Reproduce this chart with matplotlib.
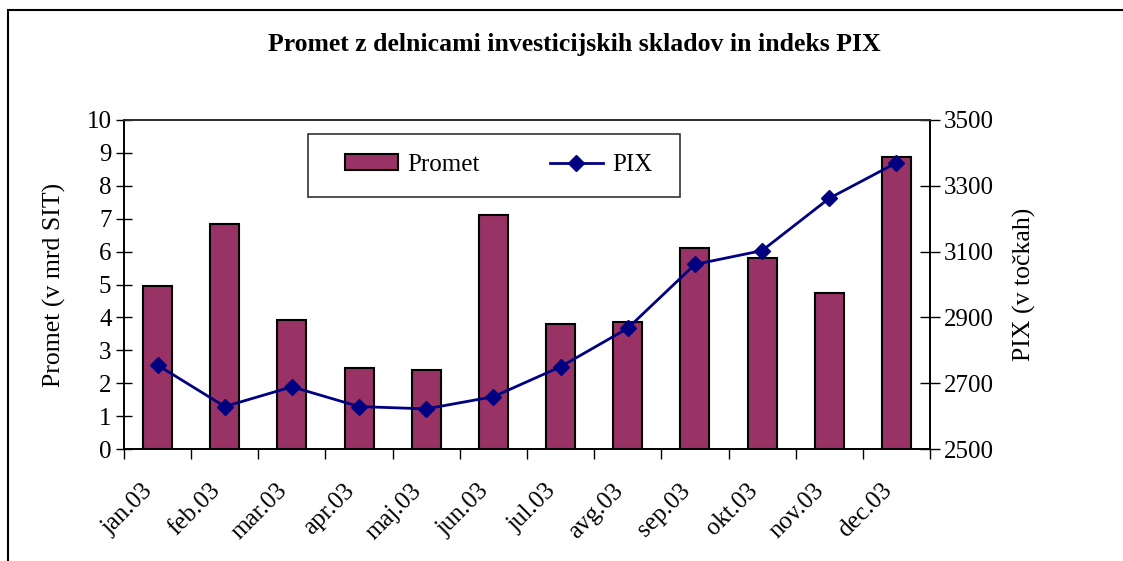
import matplotlib
matplotlib.use("Agg")
import matplotlib.pyplot as plt
from matplotlib.patches import Rectangle
from matplotlib.lines import Line2D
from matplotlib.patches import Patch
from matplotlib.transforms import ScaledTranslation
import numpy as np

months = ["jan.03", "feb.03", "mar.03", "apr.03", "maj.03", "jun.03",
          "jul.03", "avg.03", "sep.03", "okt.03", "nov.03", "dec.03"]
promet = [4.95, 6.83, 3.91, 2.45, 2.40, 7.12, 3.79, 3.85, 6.10, 5.80, 4.75, 8.88]
pix = [2755, 2629, 2689, 2629, 2622, 2659, 2750, 2867, 3061, 3103, 3262, 3370]

title = "Promet z delnicami investicijskih skladov in indeks PIX"
ylabel_left = "Promet (v mrd SIT)"
ylabel_right = "PIX (v točkah)"

plt.rcParams['font.family'] = ['Liberation Serif', 'DejaVu Serif']

W, H = 1123, 561
fig = plt.figure(figsize=(W / 100, H / 100), dpi=100)

def fx(px):
    return px / W

def fy(py):
    return 1 - py / H

# outer chart border
fig.patches.append(Rectangle((fx(8), -0.1), 1.2, fy(10) + 0.1,
                             transform=fig.transFigure, fill=False,
                             edgecolor='black', linewidth=1.5))

ax = fig.add_axes([fx(124), fy(449), fx(930) - fx(124), fy(120) - fy(449)])
ax2 = ax.twinx()

x = np.arange(len(months))
ax.bar(x, promet, width=0.43, color='#993366', edgecolor='black', linewidth=1.5, zorder=2)
ax.set_xlim(-0.5, len(months) - 0.5)
ax.set_ylim(0, 10)
ax.set_yticks(range(0, 11))
ax.tick_params(axis='y', direction='inout', length=12, width=1, labelsize=18, pad=3)

ax.set_xticks(x)
ax.set_xticklabels(months, rotation=45, ha='right', rotation_mode='anchor', fontsize=18)
ax.set_xticks(np.arange(-0.5, len(months), 1), minor=True)
ax.tick_params(axis='x', which='major', length=0, pad=22)
ax.tick_params(axis='x', which='minor', direction='out', length=7, width=1)
offset = ScaledTranslation(-16 / 100, 0, fig.dpi_scale_trans)
for lbl in ax.get_xticklabels():
    lbl.set_transform(lbl.get_transform() + offset)

ax2.plot(x, pix, color='#000080', linewidth=2, marker='D', markersize=8,
         markerfacecolor='#000080', markeredgecolor='#000080', zorder=3)
ax2.set_ylim(2500, 3500)
ax2.set_yticks(range(2500, 3501, 200))
ax2.tick_params(axis='y', direction='inout', length=14, width=1, labelsize=18, pad=3)

for a in (ax, ax2):
    for s in a.spines.values():
        s.set_linewidth(1.2)
        s.set_color('black')
ax2.spines['top'].set_color('#333333')

ax.set_ylabel(ylabel_left, fontsize=18.5, labelpad=15)
ax2.set_ylabel(ylabel_right, fontsize=18.5, labelpad=14)

fig.text(fx(574), fy(45), title, ha='center', va='center', fontsize=18.5, fontweight='bold')

# legend
fig.patches.append(Rectangle((fx(308), fy(197)), fx(680) - fx(308), fy(134) - fy(197),
                             transform=fig.transFigure, fill=True, facecolor='white',
                             edgecolor='#333333', linewidth=1.2, zorder=5))
handles = [Patch(facecolor='#993366', edgecolor='black', linewidth=1.5),
           Line2D([0], [0], color='#000080', linewidth=2, marker='D', markersize=8)]
leg = fig.legend(handles, ["Promet", "PIX"], loc='center', bbox_to_anchor=(fx(499), fy(165)),
                 ncol=2, frameon=False, fontsize=18, handlelength=2.1, handleheight=0.6,
                 handletextpad=0.4, columnspacing=2.8)
leg.set_zorder(6)

fig.savefig("out.png", dpi=100)
